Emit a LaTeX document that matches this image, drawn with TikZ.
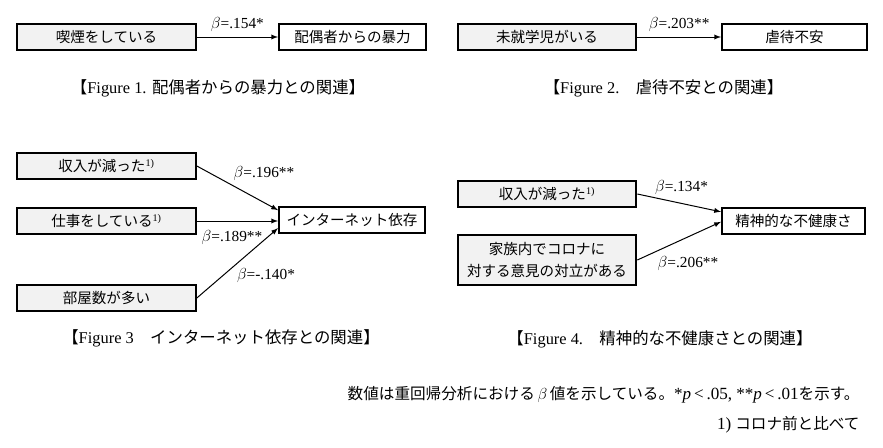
\documentclass[tikz,border=0pt]{standalone}
\usepackage{fontspec}
\setmainfont{Liberation Serif}
\newfontfamily\jp{Noto Sans CJK JP}
\usepackage{tikz}
\usetikzlibrary{arrows,calc,positioning}
\newcommand{\ja}[1]{{\jp #1}}
\newcommand{\noteone}{\textsuperscript{\rmfamily 1)}}
\tikzset{
    %Define style for boxes
    pred/.style={
        rectangle,
        draw=black, line width=1.5pt,
        fill=black!5,
        minimum width=134pt,
        minimum height=19.5pt,
        align=center,
        font=\jp\fontsize{10.9}{16.5}\selectfont,
    },
    outcome/.style={
        rectangle,
        draw=black, line width=1.5pt,
        fill=white,
        minimum height=19.5pt,
        align=center,
        font=\jp\fontsize{10.9}{16.5}\selectfont,
    },
    coef/.style={
        draw = none,
        font = \fontsize{11.5}{13}\selectfont,
    },
    figcap/.style={
        draw = none,
        font = \fontsize{12.3}{14}\selectfont,
    },
    txt/.style={
        draw = none,
        inner sep = 0pt,
        font = \fontsize{11.7}{14}\selectfont,
    },
}
\begin{document}
\begin{tikzpicture}[x=0.75pt,y=-0.75pt,->,>=latex,line width=0.75pt]
    \useasboundingbox (0,0) rectangle (883,447);

    % Figure 1
    \node[pred] (smoke) at (106.5,37) {喫煙をしている};
    \node[outcome, minimum width=110.25pt] (viol) at (352.5,37) {配偶者からの暴力};
    \draw (smoke) -- node[coef, above] (b1) {$\beta$=.154*} (viol);
    \node[figcap] (cap1) at (218,88) {\ja{【}Figure 1. \ja{配偶者からの暴力との関連】}};

    % Figure 2
    \node[pred] (child) at (547,37) {未就学児がいる};
    \node[outcome, minimum width=108.75pt] (anx) at (794.5,37) {虐待不安};
    \draw (child) -- node[coef, above] (b2) {$\beta$=.203**} (anx);
    \node[figcap] (cap2) at (663.5,88) {\ja{【}Figure 2.\ja{　虐待不安との関連】}};

    % Figure 3
    \node[pred] (inc) at (106.5,166) {収入が減った\noteone};
    \node[pred] (work) at (106.5,221) {仕事をしている\noteone};
    \node[pred] (room) at (106.5,298) {部屋数が多い};
    \node[outcome, minimum width=109.5pt] (net) at (352,219.5) {インターネット依存};
    \draw (inc.east) -- ([yshift=7pt]net.west);
    \draw (work.east) -- (work.east -| net.west);
    \draw (room.east) -- ([yshift=-6.5pt]net.west);
    \node[coef] (b3) at (264,173) {$\beta$=.196**};
    \node[coef] (b4) at (232,237) {$\beta$=.189**};
    \node[coef] (b5) at (266,275) {$\beta$=-.140*};
    \node[figcap] (cap3) at (221,338) {\ja{【}Figure 3\ja{　インターネット依存との関連】}};

    % Figure 4
    \node[pred] (inc2) at (547,194) {収入が減った\noteone};
    \node[pred, minimum height=37.5pt] (conf) at (547,260) {家族内でコロナに\\対する意見の対立がある};
    \node[outcome, minimum width=107.25pt] (mh) at (793.5,220.5) {精神的な不健康さ};
    \draw (inc2.east) -- ([yshift=6.5pt]mh.west);
    \draw (conf.east) -- ([yshift=-1pt]mh.west);
    \node[coef] (b6) at (681.5,187) {$\beta$=.134*};
    \node[coef] (b7) at (688,263) {$\beta$=.206**};
    \node[figcap] (cap4) at (660,339) {\ja{【}Figure 4.\ja{　精神的な不健康さとの関連】}};

    % notes
    \node[txt, anchor=east] (note1) at (860,395) {\ja{数値は重回帰分析における}\,{\fontsize{13}{14}\selectfont$\beta$}\,\ja{値を示している。}{\fontsize{12.8}{14}\selectfont*\textit{p}\,<\,.05, **\textit{p}\,<\,.01}\ja{を示す。}};
    \node[txt, anchor=east] (note2) at (860,425) {{\fontsize{12.8}{14}\selectfont 1)}\ \ja{コロナ前と比べて}};
\end{tikzpicture}
\end{document}
